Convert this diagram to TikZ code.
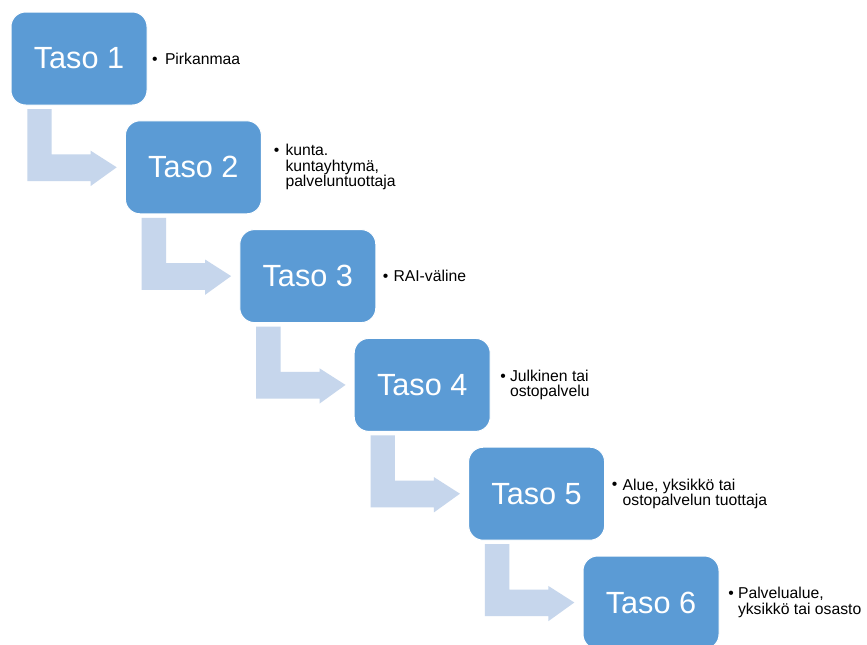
\documentclass[tikz,border=0pt]{standalone}
\usepackage{fontspec}
\setmainfont{Liberation Sans}
\usetikzlibrary{calc}
\definecolor{boxblue}{RGB}{91,155,213}
\definecolor{arrowblue}{RGB}{198,214,236}

\begin{document}
\begin{tikzpicture}[x=0.75pt,y=-0.75pt,
  level/.style={fill=boxblue, draw=white, line width=0.75pt, rounded corners=11pt,
    minimum width=102pt, minimum height=69.75pt, inner sep=0pt, outer sep=0pt,
    text=white, font=\fontsize{23}{27}\selectfont},
  note/.style={anchor=west, inner sep=0pt, outer sep=0pt, align=left,
    font=\fontsize{11.8}{11.6}\selectfont},
  dot/.style={anchor=base, inner sep=0pt, font=\fontsize{11.8}{11.6}\selectfont},
  bentarrow/.style={fill=arrowblue}]
\clip (0,0) rectangle (867,644);
\fill[white] (0,0) rectangle (867,644);

% level boxes
\node[level] (t1) at (79,58.5)    {Taso 1};
\node[level] (t2) at (193.4,167.3) {Taso 2};
\node[level] (t3) at (307.8,276.1) {Taso 3};
\node[level] (t4) at (422.2,384.9) {Taso 4};
\node[level] (t5) at (536.6,493.7) {Taso 5};
\node[level] (t6) at (651,602.5)   {Taso 6};

% bent arrows from each box down to the next one
\foreach \a/\b in {1/2,2/3,3/4,4/5,5/6}{
  \coordinate (sw) at (t\a.south west);
  \fill[bentarrow] ($(sw)+(16.3,4)$) -- ($(sw)+(40.7,4)$) -- ($(sw)+(40.7,49.3)$)
    -- ($(sw)+(79.7,49.3)$) -- ($(sw)+(79.7,45.7)$) -- ($(t\b.west)+(-8.7,0)$)
    -- ($(sw)+(79.7,81)$) -- ($(sw)+(79.7,76)$) -- ($(sw)+(16.3,76)$) -- cycle;
}

% bullet notes beside the boxes
\node[note] (n1) at (165,58.5)    {Pirkanmaa};
\node[note] (n2) at (285.5,167.3) {kunta.\\kuntayhtymä,\\palveluntuottaja};
\node[note] (n3) at (393.5,276.1) {RAI-väline};
\node[note] (n4) at (510,384.9)   {Julkinen tai\\ostopalvelu};
\node[note] (n5) at (622.7,493.7) {Alue, yksikkö tai\\ostopalvelun tuottaja};
\node[note] (n6) at (738,602.5)   {Palvelualue,\\yksikkö tai osasto};

\foreach \n/\d in {1/-10,2/-8.8,3/-8,4/-7,5/-8.2,6/-7}{
  \node[dot] (b\n) at ($(n\n.north west)+(\d,11.3)$) {\textbullet};
}
\end{tikzpicture}
\end{document}
